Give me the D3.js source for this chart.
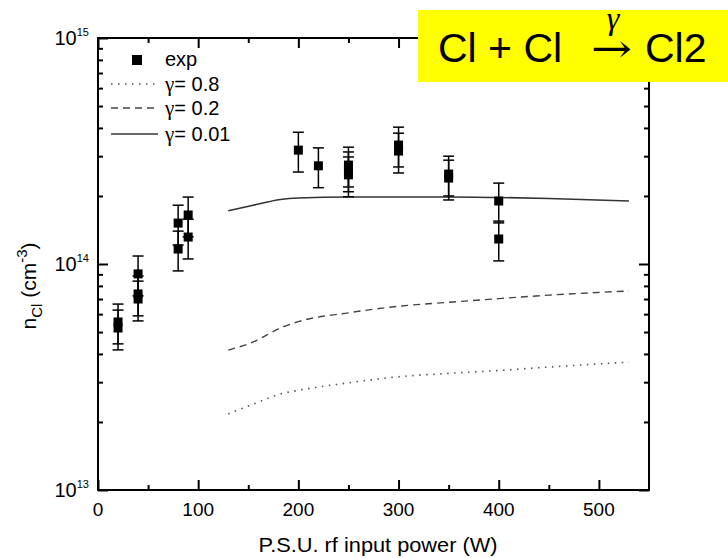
<!DOCTYPE html>
<html>
<head>
<meta charset="utf-8">
<script src="https://cdn.jsdelivr.net/npm/d3@7"></script>
<style>
  body { margin: 0; background: #fff; }
  svg { display: block; font-family: "Liberation Sans", Arial, sans-serif; }
</style>
</head>
<body>
<div id="chart"></div>
<script>
// measured points (W, cm^-3) and relative error
const expPower   = [20, 20, 40, 40, 40, 80, 80, 90, 90, 200, 220, 250, 250, 250, 300, 300, 350, 350, 400, 400];
const expDensity = [5.54e13, 5.21e13, 9.04e13, 7.37e13, 7.0e13, 1.517e14, 1.165e14, 1.648e14, 1.316e14,
                    3.19e14, 2.72e14, 2.74e14, 2.61e14, 2.48e14, 3.36e14, 3.16e14, 2.50e14, 2.40e14, 1.90e14, 1.29e14];
const expError   = [0.2, 0.2, 0.2, 0.2, 0.2, 0.2, 0.2, 0.2, 0.2, 0.2, 0.2, 0.2, 0.2, 0.2, 0.2, 0.2, 0.2, 0.2, 0.2, 0.2];

// model curves
const modelPower = [130, 155, 182, 200, 250, 300, 350, 400, 450, 530];
const gamma08  = [2.17e13, 2.40e13, 2.66e13, 2.76e13, 2.98e13, 3.17e13, 3.28e13, 3.38e13, 3.50e13, 3.68e13];
const gamma02  = [4.16e13, 4.52e13, 5.21e13, 5.56e13, 6.08e13, 6.50e13, 6.77e13, 7.03e13, 7.28e13, 7.60e13];
const gamma001 = [1.72e14, 1.82e14, 1.93e14, 1.96e14, 1.98e14, 1.98e14, 1.98e14, 1.97e14, 1.95e14, 1.90e14];

const xTicks = [0, 100, 200, 300, 400, 500];
const xMinor = [50, 150, 250, 350, 450];
const yDecades = [13, 14, 15];

const w = 728, h = 558;
const marginLeft = 98, plotRight = 649, marginTop = 38, plotBottom = 490;

const svg = d3.select("#chart").append("svg")
    .attr("width", w).attr("height", h);

const x = d3.scaleLinear().domain([0, 550]).range([marginLeft, plotRight]);
const y = d3.scaleLog().domain([1e13, 1e15]).range([plotBottom, marginTop]);

const yMinor = [];
[1e13, 1e14].forEach(d => { for (let k = 2; k <= 9; k++) yMinor.push(d * k); });
const yMajor = yDecades.map(e => Math.pow(10, e));

// ticks on all four sides, pointing in
function ticks(axisFn, pos, vals, len) {
  svg.append("g")
    .attr("transform", pos)
    .call(axisFn.tickValues(vals).tickSize(-len).tickFormat(""))
    .call(g => g.select(".domain").remove())
    .call(g => g.selectAll(".tick line").attr("stroke", "#000").attr("stroke-width", 2));
}
ticks(d3.axisBottom(x), `translate(0,${plotBottom})`, xTicks, 10);
ticks(d3.axisBottom(x), `translate(0,${plotBottom})`, xMinor, 5);
ticks(d3.axisTop(x), `translate(0,${marginTop})`, xTicks, 10);
ticks(d3.axisTop(x), `translate(0,${marginTop})`, xMinor, 5);
ticks(d3.axisLeft(y), `translate(${marginLeft},0)`, yMajor, 10);
ticks(d3.axisLeft(y), `translate(${marginLeft},0)`, yMinor, 5);
ticks(d3.axisRight(y), `translate(${plotRight},0)`, yMajor, 10);
ticks(d3.axisRight(y), `translate(${plotRight},0)`, yMinor, 5);

svg.append("rect")
    .attr("x", marginLeft).attr("y", marginTop)
    .attr("width", plotRight - marginLeft).attr("height", plotBottom - marginTop)
    .attr("fill", "none").attr("stroke", "#000").attr("stroke-width", 2);

// x tick labels
svg.append("g").selectAll("text")
  .data(xTicks)
  .join("text")
    .attr("x", d => x(d))
    .attr("y", 516)
    .attr("text-anchor", "middle")
    .attr("font-size", 19)
    .text(d => d);

// y tick labels 10^n
const yl = svg.append("g").selectAll("text")
  .data(yDecades)
  .join("text")
    .attr("x", 89)
    .attr("y", d => y(Math.pow(10, d)) + 7)
    .attr("text-anchor", "end")
    .attr("font-size", 20);
yl.append("tspan").text("10");
yl.append("tspan").attr("font-size", 11).attr("dy", -9).text(d => d);

// axis titles
svg.append("text")
    .attr("x", 378).attr("y", 552)
    .attr("text-anchor", "middle")
    .attr("font-size", 21)
    .attr("textLength", 239).attr("lengthAdjust", "spacingAndGlyphs")
    .text("P.S.U. rf input power (W)");

const yt = svg.append("text")
    .attr("transform", "translate(36,286) rotate(-90)")
    .attr("text-anchor", "middle")
    .attr("font-size", 21);
yt.append("tspan").text("n");
yt.append("tspan").attr("font-size", 15).attr("dy", 6).text("Cl");
yt.append("tspan").attr("dy", -6).text(" (cm");
yt.append("tspan").attr("font-size", 15).attr("dy", -9).text("-3");
yt.append("tspan").attr("dy", 9).text(")");

// model lines
const line = d3.line()
    .x((d, i) => x(modelPower[i]))
    .y(d => y(d))
    .curve(d3.curveMonotoneX);

const models = [
  { vals: gamma08,  dash: "1.5,5.5", color: "#555", width: 1.6, label: "0.8" },
  { vals: gamma02,  dash: "7,5",     color: "#444", width: 1.4, label: "0.2" },
  { vals: gamma001, dash: null,      color: "#333", width: 1.6, label: "0.01" }
];

svg.append("g").selectAll("path")
  .data(models)
  .join("path")
    .attr("d", d => line(d.vals))
    .attr("fill", "none")
    .attr("stroke", d => d.color)
    .attr("stroke-width", d => d.width)
    .attr("stroke-dasharray", d => d.dash);

// experimental points with error bars
const pts = expPower.map((p, i) => ({ p, v: expDensity[i], e: expError[i] }));
const eb = svg.append("g").selectAll("g")
  .data(pts)
  .join("g");
eb.append("line")
    .attr("x1", d => x(d.p)).attr("x2", d => x(d.p))
    .attr("y1", d => y(d.v * (1 + d.e))).attr("y2", d => y(d.v * (1 - d.e)))
    .attr("stroke", "#000").attr("stroke-width", 1.5);
eb.append("line")
    .attr("x1", d => x(d.p) - 5.5).attr("x2", d => x(d.p) + 5.5)
    .attr("y1", d => y(d.v * (1 + d.e))).attr("y2", d => y(d.v * (1 + d.e)))
    .attr("stroke", "#000").attr("stroke-width", 1.5);
eb.append("line")
    .attr("x1", d => x(d.p) - 5.5).attr("x2", d => x(d.p) + 5.5)
    .attr("y1", d => y(d.v * (1 - d.e))).attr("y2", d => y(d.v * (1 - d.e)))
    .attr("stroke", "#000").attr("stroke-width", 1.5);
eb.append("rect")
    .attr("x", d => x(d.p) - 4.5).attr("y", d => y(d.v) - 4.5)
    .attr("width", 9).attr("height", 9)
    .attr("fill", "#000");

// legend
const lg = svg.append("g");
lg.append("rect").attr("x", 132).attr("y", 55).attr("width", 10).attr("height", 10).attr("fill", "#000");
lg.append("text").attr("x", 165).attr("y", 66).attr("font-size", 20).text("exp");
models.forEach((m, i) => {
  const ly = [84, 108, 134][i];
  lg.append("line")
      .attr("x1", 111).attr("x2", 158).attr("y1", ly).attr("y2", ly)
      .attr("stroke", m.color).attr("stroke-width", m.width)
      .attr("stroke-dasharray", m.dash);
  const t = lg.append("text").attr("x", 165).attr("y", ly + 7).attr("font-size", 20);
  t.append("tspan").attr("font-family", "Liberation Serif").attr("font-size", 21).text("\u03b3");
  t.append("tspan").text("= " + m.label);
});

// reaction label
svg.append("rect")
    .attr("x", 418).attr("y", 10).attr("width", 310).attr("height", 72)
    .attr("fill", "#ffff00");
svg.append("text").attr("x", 438).attr("y", 62).attr("font-size", 41).text("Cl + Cl");
svg.append("text").attr("x", 591).attr("y", 62)
    .attr("font-size", 40).attr("font-family", "DejaVu Serif")
    .attr("textLength", 41).attr("lengthAdjust", "spacingAndGlyphs")
    .text("\u2192");
svg.append("text").attr("x", 613).attr("y", 29).attr("text-anchor", "middle")
    .attr("font-size", 32).attr("font-style", "italic")
    .attr("font-family", "Liberation Serif").text("\u03b3");
svg.append("text").attr("x", 645).attr("y", 62).attr("font-size", 41).text("Cl2");
</script>
</body>
</html>
